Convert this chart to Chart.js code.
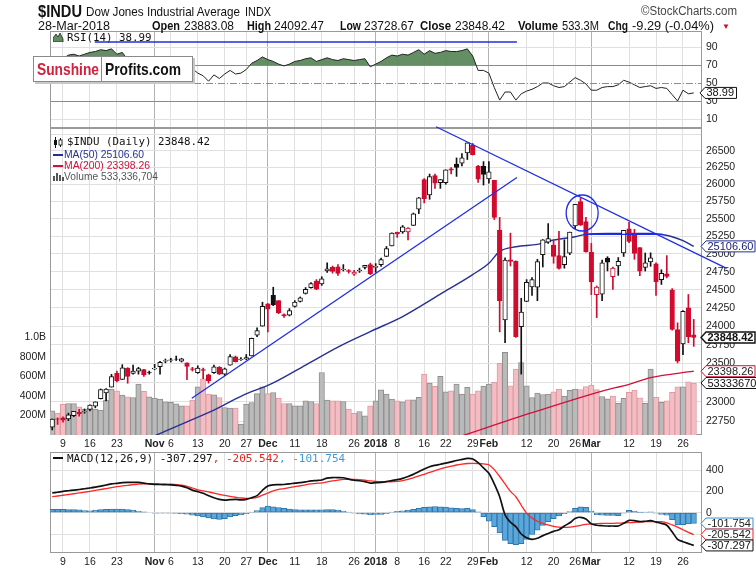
<!DOCTYPE html>
<html><head><meta charset="utf-8">
<script src="https://cdn.jsdelivr.net/npm/chart.js@4.4.1/dist/chart.umd.min.js"></script>
<style>
html,body{margin:0;padding:0;background:#fff;}
#wrap{position:relative;width:756px;height:572px;overflow:hidden;background:#fff;}
canvas{position:absolute;left:0;top:0;}
.t{position:absolute;white-space:nowrap;font-family:"Liberation Sans",Arial,sans-serif;color:#111;line-height:1;transform-origin:0 0;}
.s{position:absolute;white-space:nowrap;font-family:"Liberation Sans",Arial,sans-serif;font-size:10px;line-height:1;transform-origin:0 0;}
.m{position:absolute;white-space:nowrap;font-family:"DejaVu Sans Mono",monospace;font-size:10.8px;line-height:1;color:#111;}
.bd{font-weight:bold;}
#logo{position:absolute;left:33px;top:56px;width:158px;height:24px;background:#fff;border:1px solid #8a8a8a;box-shadow:2px 2px 0 #c8c8c8;}
#logo .t{font-size:17px;font-weight:bold;top:4px;}
#logo .d{position:absolute;left:67px;top:0;width:1px;height:24px;background:#8a8a8a;}
</style></head>
<body><div id="wrap">
<canvas id="cRsi" width="756" height="572"></canvas>
<canvas id="cMain" width="756" height="572"></canvas>
<canvas id="cMacd" width="756" height="572"></canvas>

<div class="t fit bd" data-w="44" style="left:38px;top:3px;font-size:17px;">$INDU</div>
<div class="t fit" data-w="154" style="left:86px;top:5px;font-size:13px;">Dow Jones Industrial Average</div>
<div class="t fit" data-w="26" style="left:245px;top:5px;font-size:13px;">INDX</div>
<div class="t fit" data-w="96" style="left:641px;top:5px;font-size:12.5px;color:#444;">©StockCharts.com</div>

<div class="t fit" data-w="72" style="left:38px;top:20px;font-size:12.5px;">28-Mar-2018</div>
<div class="t fit bd" data-w="28" style="left:152px;top:20px;font-size:12.5px;">Open</div>
<div class="t fit" data-w="50" style="left:184px;top:20px;font-size:12.5px;">23883.08</div>
<div class="t fit bd" data-w="24" style="left:247px;top:20px;font-size:12.5px;">High</div>
<div class="t fit" data-w="50" style="left:274px;top:20px;font-size:12.5px;">24092.47</div>
<div class="t fit bd" data-w="21" style="left:340px;top:20px;font-size:12.5px;">Low</div>
<div class="t fit" data-w="50" style="left:364px;top:20px;font-size:12.5px;">23728.67</div>
<div class="t fit bd" data-w="31" style="left:420px;top:20px;font-size:12.5px;">Close</div>
<div class="t fit" data-w="50" style="left:455px;top:20px;font-size:12.5px;">23848.42</div>
<div class="t fit bd" data-w="40" style="left:518px;top:20px;font-size:12.5px;">Volume</div>
<div class="t fit" data-w="37" style="left:562px;top:20px;font-size:12.5px;">533.3M</div>
<div class="t fit bd" data-w="20" style="left:608px;top:20px;font-size:12.5px;">Chg</div>
<div class="t fit" data-w="82" style="left:632px;top:20px;font-size:12.5px;">-9.29 (-0.04%)</div>
<div class="t" style="left:722px;top:23px;font-size:8px;color:#cc1122;">▼</div>

<svg style="position:absolute;left:53px;top:33px" width="11" height="9"><polygon points="0,9 0,5 3,1 5,4 7,0 10,6 10,9" fill="#5f8f5f" stroke="#222" stroke-width="0.8"/></svg>
<div class="m" style="left:67px;top:33px;">RSI(14) 38.99</div>

<div id="logo"><span class="t fit" data-w="62" style="left:3px;color:#d3203c;">Sunshine</span><span class="d"></span><span class="t fit" data-w="76" style="left:71px;color:#111;">Profits.com</span></div>

<svg style="position:absolute;left:53px;top:137px" width="11" height="11"><line x1="2.5" y1="0" x2="2.5" y2="11" stroke="#111"/><rect x="1" y="3" width="3" height="5" fill="#111"/><line x1="7.5" y1="1" x2="7.5" y2="10" stroke="#111"/><rect x="6" y="3" width="3" height="5" fill="#fff" stroke="#111" stroke-width="0.8"/></svg>
<div class="m" style="left:67px;top:137px;">$INDU (Daily) 23848.42</div>
<div style="position:absolute;left:53px;top:154px;width:10px;height:2px;background:#27308f;"></div>
<div class="s fit" data-w="80" style="left:64px;top:150px;color:#27308f;">MA(50) 25106.60</div>
<div style="position:absolute;left:53px;top:165px;width:10px;height:2px;background:#d0103a;"></div>
<div class="s fit" data-w="86" style="left:64px;top:161px;color:#d0103a;">MA(200) 23398.26</div>
<svg style="position:absolute;left:53px;top:172px" width="11" height="9"><rect x="0" y="4" width="2" height="5" fill="#555"/><rect x="3" y="1" width="2" height="8" fill="#555"/><rect x="6" y="3" width="2" height="6" fill="#555"/><rect x="9" y="5" width="2" height="4" fill="#555"/></svg>
<div class="s fit" data-w="94" style="left:64px;top:172px;color:#555;">Volume 533,336,704</div>

<div style="position:absolute;left:53px;top:457px;width:10px;height:2px;background:#111;"></div>
<div class="m" style="left:67px;top:453px;font-size:11px;">MACD(12,26,9) -307.297<span style="color:#ee2222">, -205.542</span><span style="color:#3b9be0">, -101.754</span></div>
</div>
<script>
// ---------------- DATA ----------------
const dates = ["Oct 5","Oct 6","Oct 9","Oct 10","Oct 11","Oct 12","Oct 13","Oct 16","Oct 17","Oct 18","Oct 19","Oct 20","Oct 23","Oct 24","Oct 25","Oct 26","Oct 27","Oct 30","Oct 31",
"Nov 1","Nov 2","Nov 3","Nov 6","Nov 7","Nov 8","Nov 9","Nov 10","Nov 13","Nov 14","Nov 15","Nov 16","Nov 17","Nov 20","Nov 21","Nov 22","Nov 24","Nov 27","Nov 28","Nov 29","Nov 30",
"Dec 1","Dec 4","Dec 5","Dec 6","Dec 7","Dec 8","Dec 11","Dec 12","Dec 13","Dec 14","Dec 15","Dec 18","Dec 19","Dec 20","Dec 21","Dec 22","Dec 26","Dec 27","Dec 28","Dec 29",
"Jan 2","Jan 3","Jan 4","Jan 5","Jan 8","Jan 9","Jan 10","Jan 11","Jan 12","Jan 16","Jan 17","Jan 18","Jan 19","Jan 22","Jan 23","Jan 24","Jan 25","Jan 26","Jan 29","Jan 30","Jan 31",
"Feb 1","Feb 2","Feb 5","Feb 6","Feb 7","Feb 8","Feb 9","Feb 12","Feb 13","Feb 14","Feb 15","Feb 16","Feb 20","Feb 21","Feb 22","Feb 23","Feb 26","Feb 27","Feb 28",
"Mar 1","Mar 2","Mar 5","Mar 6","Mar 7","Mar 8","Mar 9","Mar 12","Mar 13","Mar 14","Mar 15","Mar 16","Mar 19","Mar 20","Mar 21","Mar 22","Mar 23","Mar 26","Mar 27","Mar 28"];

const openP = [22670,22778,22790,22777,22820,22862,22866,22900,22940,23040,23115,23190,23370,23290,23440,23370,23400,23420,23380,23430,23460,23530,23540,23560,23530,23510,23430,23380,23420,23350,
23380,23450,23360,23480,23590,23550,23560,23600,23880,24000,24305,24424,24350,24160,24150,24270,24340,24450,24530,24620,24580,24760,24810,24820,24780,24765,24715,24760,24810,24850,
24810,24850,24964,25115,25308,25312,25311,25406,25638,26071,25847,26129,26025,26026,26232,26302,26313,26466,26583,26268,26268,26083,26061,25338,24085,24916,24894,23993,24338,24540,
24535,24990,25165,25124,24977,24850,25010,25400,25750,25460,25024,24432,24438,24940,24681,24830,25014,25357,25271,25090,24812,24888,24859,24641,24719,24496,23956,23762,24251,23883.08];
const highP = [22777,22790,22803,22852,22873,22900,22905,22960,22997,23165,23170,23358,23400,23485,23445,23480,23450,23425,23400,23490,23530,23560,23570,23600,23570,23510,23450,23470,23440,23360,
23480,23460,23440,23620,23600,23580,23620,23840,23980,24328,24310,24534,24350,24170,24240,24350,24400,24530,24600,24640,24680,24876,24830,24850,24850,24780,24770,24800,24840,24870,
24864,24941,25105,25299,25311,25404,25375,25584,25810,26086,26153,26153,26072,26215,26250,26392,26458,26617,26608,26281,26338,26338,26062,25520,24946,25295,24904,24382,24640,24668,
24924,25203,25432,25186,25320,25200,25310,25709,25800,25521,25149,24552,24912,24961,24815,24949,25336,25450,25350,25091,25013,25016,24874,24778,24976,24515,24046,24212,24434,24092.47];
const lowP = [22636,22706,22735,22754,22805,22812,22850,22880,22920,23035,23010,23190,23257,23290,23240,23360,23360,23330,23360,23420,23360,23510,23520,23540,23520,23286,23400,23370,23300,23242,
23370,23355,23340,23480,23520,23540,23550,23600,23860,24000,23922,24280,24170,24120,24140,24260,24330,24440,24520,24500,24560,24740,24730,24700,24760,24730,24700,24740,24790,24710,
24742,24825,24963,25112,25235,25292,25200,25405,25575,25730,25783,25942,25942,26003,26156,26118,26275,26368,26435,26028,25991,26020,25490,23924,23779,24830,23849,23360,24337,24420,
24349,24816,25149,24869,24785,24800,24990,25358,25405,25025,24432,24117,24348,24762,24505,24699,24964,25158,24924,24694,24760,24826,24422,24573,24664,23947,23509,23618,23777,23728.67];
const closeP = [22775,22774,22761,22831,22873,22841,22871,22957,22997,23158,23163,23329,23274,23442,23330,23401,23434,23349,23377,23436,23517,23539,23548,23557,23563,23462,23422,23440,23410,23272,
23458,23358,23430,23591,23526,23558,23580,23836,23940,24272,24231,24290,24180,24140,24212,24329,24387,24504,24585,24509,24652,24792,24754,24726,24782,24754,24746,24774,24838,24719,
24824,24922,25075,25295,25283,25386,25369,25574,25803,25792,26116,26017,26071,26214,26210,26252,26392,26617,26439,26076,26149,26186,25521,24346,24912,24893,23860,24191,24601,24640,
24893,25200,25219,24964,24798,24962,25310,25709,25410,25029,24608,24538,24874,24884,24801,24895,25336,25178,25007,24759,24873,24946,24610,24727,24683,23958,23533,24202,23857,23848.42];
const prevClose0 = 22661; // close before the first bar (Oct 4)
// volume, millions of shares
const volumeM = [248,225,315,323,323,290,266,276,265,255,358,470,454,409,392,385,522,447,392,378,368,340,334,320,300,300,358,495,576,420,
412,385,282,276,276,113,316,333,425,494,425,436,378,323,323,299,299,350,344,323,641,357,350,350,344,265,221,241,197,300,
351,464,420,369,351,341,362,362,386,625,532,498,601,443,454,522,420,488,420,454,502,522,539,734,847,504,675,744,504,384,
430,415,420,443,470,400,458,470,467,496,511,465,395,370,399,326,375,437,461,380,324,676,386,334,351,437,495,495,546,533.3];
const lastVolumeText = "533336704";

// moving averages (read as sparse points: day index, value)
const ma50Idx = [19,25,30,35,41,47,53,59,65,72,78,81,83,86,90,93,97,99,104,108,111,113,115,117,119];
const ma50Val = [22560,22740,22890,23070,23245,23480,23720,23928,24132,24440,24710,24868,25035,25102,25136,25197,25244,25278,25290,25292,25290,25275,25244,25187,25106.60];
const ma200Idx = [76,89,102,107,111,119];
const ma200Val = [22560,22857,23138,23226,23314,23398.26];

const rsi14 = [78,78,77,81,82,80,82,84,85,87,86,88,82,84,76,77,78,72,73,75,77,77,78,78,78,70,66,61,58,52,
59,55,60,64,60,61,65,72,75,79,76,74,71,69,71,74,75,77,78,74,76,78,76,75,77,76,75,76,77,68,
71,74,78,81,80,82,81,84,87,82,86,83,84,86,85,85,86,88,80,64,64,61,45,31,40,40,31,38,41,43,
46,50,50,47,45,46,51,56,53,49,42,42,45,46,46,48,53,51,48,45,46,47,44,45,44,37,30,42,38,38.99];

const macdLine = [185,192,200,206,212,218,225,232,240,250,260,270,276,282,285,285,284,278,270,266,265,263,261,257,250,235,212,198,182,160,
140,125,118,122,125,120,125,140,160,210,250,262,264,265,270,278,283,290,298,302,307,325,330,330,328,315,305,300,292,278,
282,285,292,302,310,322,340,360,385,410,432,445,455,465,477,490,500,510,505,470,420,370,270,150,-20,-90,-131,-200,-235,-250,
-240,-215,-195,-175,-160,-125,-95,-55,-43,-60,-105,-118,-122,-125,-125,-125,-100,-72,-75,-84,-80,-75,-88,-100,-118,-180,-250,-272,-290,-307.297];
const signalLine = [150,157,164,171,178,186,193,201,210,218,227,236,244,251,257,263,268,270,270,270,269,268,267,264,258,248,232,215,205,195,
184,172,162,153,145,138,134,136,145,165,185,205,218,226,235,245,253,262,270,276,280,290,298,305,312,313,312,310,305,298,
293,291,291,291,295,302,312,328,345,360,378,395,412,425,437,448,456,462,464,462,458,450,405,340,270,200,150,70,-6,-50,
-80,-100,-115,-128,-135,-137,-135,-128,-118,-110,-105,-102,-100,-100,-100,-98,-96,-94,-90,-87,-84,-84,-84,-84,-95,-115,-135,-160,-185,-205.542];
const histBars = [32,32,31,30,30,28,20,18,24,30,32,35,35,33,30,24,15,8,0,-3,-4,-5,-5,-7,-10,-14,-22,-30,-40,-50,
-58,-62,-55,-40,-28,-18,-10,5,20,48,62,56,48,40,34,30,28,28,28,26,26,30,30,25,16,5,-5,-12,-14,-18,
-16,-15,-8,5,14,18,25,32,42,50,55,58,55,52,45,40,38,40,30,8,-38,-80,-130,-190,-260,-290,-300,-290,-250,-205,
-165,-120,-85,-55,-30,-10,10,40,55,50,15,-18,-22,-25,-25,-27,-4,22,15,3,4,9,-4,-16,-23,-65,-115,-112,-105,-101.754];

// tick labels
const tickIdx  = [2,7,12,19,22,27,32,36,40,45,50,56,60,64,69,73,78,81,88,93,97,100,107,112,117];
const tickText = ["9","16","23","Nov","6","13","20","27","Dec","11","18","26","2018","8","16","22","29","Feb","12","20","26","Mar","12","19","26"];
const monthIdx = [19,40,60,81,100];
const priceTicks  = [22750,23000,23250,23500,23750,24000,24250,24500,24750,25000,25250,25500,25750,26000,26250,26500,26750];
const priceLabels = ["22750","23000","23250","23500","23750","24000","24250","24500","24750","25000","25250","25500","25750","26000","26250","26500",""];
const volTicks  = [200,400,600,800,1000];
const volLabels = ["200M","400M","600M","800M","1.0B"];
const rsiTicks  = [10,30,50,70,90];
const macdTicks  = [-200,0,200,400];
const macdLabels = ["","0","200","400"];

// drawn annotations (day index, value)
const supportLine = [[25.9,23044],[86.2,26102]];
const resistLine  = [[71.2,26861],[125.1,24798]];
const flatLine    = [[98.5,25276],[113.3,25276]];
const circleAt    = [98.3,25584];
const rsiMarkLine = [[7.9,95.6],[86.2,95.6]];

// ---------------- TEXT FITTING ----------------
document.querySelectorAll('.fit').forEach(el=>{
  const w = el.getBoundingClientRect().width, target = +el.dataset.w;
  if (w > 0) el.style.transform = 'scaleX(' + (target / w) + ')';
});

// ---------------- CHARTS ----------------
const FONT = "'Liberation Sans', Arial, sans-serif";
const X_MIN = -0.41, X_MAX = 120.53;
const RED = '#d10a2e', BLK = '#111111';
const pts = (arr) => arr.map((v,i)=>({x:i,y:v}));
const sparse = (ix, vals) => ix.map((k,i)=>({x:k,y:vals[i]}));

function xAxis(show){
  return {
    type:'linear', min:X_MIN, max:X_MAX, offset:false,
    afterBuildTicks:s=>{ s.ticks = tickIdx.map(v=>({value:v})); },
    afterFit:s=>{ s.height = show ? 14 : 0; },
    grid:{ drawTicks:false, offset:false, lineWidth:1,
      color:c=> (c.tick && monthIdx.includes(c.tick.value)) ? '#b2b2b2' : '#e0e0e0' },
    border:{display:false},
    ticks:{ display:show, padding:3, autoSkip:false, maxRotation:0, color:'#222',
      font:c=>({family:FONT,size:10.5,weight:(c.tick && monthIdx.includes(c.tick.value))?'bold':'normal'}),
      callback:v=>{ const i=tickIdx.indexOf(v); return i<0?'':tickText[i]; } }
  };
}
const frame = { id:'frame', beforeDatasetsDraw(chart){
  const a=chart.chartArea, c=chart.ctx; c.save(); c.strokeStyle='#9a9a9a'; c.lineWidth=1;
  c.strokeRect(Math.round(a.left)+0.5, Math.round(a.top)+0.5, Math.round(a.right-a.left)-1, Math.round(a.bottom-a.top)-1); c.restore(); } };

function tag(ctx, x0, yc, text, stroke, color, bold, right){
  ctx.save();
  ctx.font = (bold?'bold ':'') + '11px ' + FONT;
  const tw = ctx.measureText(text).width, h = 11, tip = 5;
  const r = right || (x0 + tip + tw + 4);
  ctx.beginPath();
  ctx.moveTo(x0, yc); ctx.lineTo(x0+tip, yc-h/2); ctx.lineTo(r, yc-h/2); ctx.lineTo(r, yc+h/2); ctx.lineTo(x0+tip, yc+h/2); ctx.closePath();
  ctx.fillStyle='#fff'; ctx.fill(); ctx.lineWidth = bold?1.4:1; ctx.strokeStyle=stroke; ctx.stroke();
  ctx.fillStyle=color; ctx.textBaseline='middle'; ctx.textAlign='left';
  ctx.fillText(text, x0+tip+1.5, yc+0.5);
  ctx.restore();
}
const common = { responsive:false, animation:false, events:[], plugins:{legend:{display:false},tooltip:{enabled:false}} };

// ---- RSI ----
const rsiPlug = { id:'rsiPlug',
  afterDatasetsDraw(chart){
    const {ctx, scales:{x,y}, chartArea:a} = chart;
    ctx.save(); ctx.strokeStyle='#8a8a8a'; ctx.lineWidth=1; ctx.setLineDash([7,2,1,2]);
    const y50 = Math.round(y.getPixelForValue(50))+0.5;
    ctx.beginPath(); ctx.moveTo(a.left,y50); ctx.lineTo(a.right,y50); ctx.stroke();
    ctx.setLineDash([]); ctx.strokeStyle='#1f2ee6'; ctx.lineWidth=1.3;
    ctx.beginPath(); ctx.moveTo(x.getPixelForValue(rsiMarkLine[0][0]), y.getPixelForValue(rsiMarkLine[0][1]));
    ctx.lineTo(x.getPixelForValue(rsiMarkLine[1][0]), y.getPixelForValue(rsiMarkLine[1][1])); ctx.stroke();
    ctx.restore();
  },
  afterDraw(chart){
    const y = chart.scales.y, last = rsi14[rsi14.length-1];
    tag(chart.ctx, 700, y.getPixelForValue(last), last.toFixed(2), '#111', '#111', false);
  } };
new Chart(document.getElementById('cRsi'), {
  type:'line',
  data:{ datasets:[{ data:pts(rsi14), borderColor:'#222', borderWidth:1, pointRadius:0, tension:0,
    fill:{target:{value:70}, above:'rgba(78,128,78,0.88)', below:'rgba(0,0,0,0)'} }] },
  options:{ ...common, layout:{padding:{top:31,bottom:444,left:50,right:0}},
    scales:{ x:xAxis(false),
      y:{ position:'right', min:0, max:107.8,
        afterBuildTicks:s=>{ s.ticks = rsiTicks.map(v=>({value:v})); },
        afterFit:s=>{ s.width=54; },
        grid:{ drawTicks:false, color:c=>{ const v=c.tick&&c.tick.value; return (v===70||v===30)?'#8a8a8a':(v===50?'rgba(0,0,0,0)':'#e0e0e0'); } },
        border:{display:false},
        ticks:{ padding:4, color:'#222', font:{family:FONT,size:10.5}, callback:v=>String(v) } } } },
  plugins:[frame, rsiPlug]
});

// ---- MAIN (price + volume) ----
const candleColor = closeP.map((c,i)=> c < (i?closeP[i-1]:prevClose0) ? RED : BLK);
const hollow = closeP.map((c,i)=> c > openP[i]);
const volUp = closeP.map((c,i)=> c >= (i?closeP[i-1]:prevClose0));
const mainPlug = { id:'mainPlug',
  afterDatasetsDraw(chart){
    const {ctx, scales:{x,y}} = chart;
    ctx.save(); ctx.strokeStyle='#1f2ee6'; ctx.lineWidth=1.3;
    for (const seg of [supportLine, resistLine, flatLine]){
      ctx.beginPath(); ctx.moveTo(x.getPixelForValue(seg[0][0]), y.getPixelForValue(seg[0][1]));
      ctx.lineTo(x.getPixelForValue(seg[1][0]), y.getPixelForValue(seg[1][1])); ctx.stroke();
    }
    ctx.beginPath(); ctx.ellipse(x.getPixelForValue(circleAt[0]), y.getPixelForValue(circleAt[1]), 16, 18, 0, 0, Math.PI*2); ctx.stroke();
    ctx.restore();
  },
  afterDraw(chart){
    const {ctx, scales:{y, vol}} = chart;
    tag(ctx, 701, y.getPixelForValue(ma50Val[ma50Val.length-1]), ma50Val[ma50Val.length-1].toFixed(2), '#27308f', '#1b2277', false, 755);
    tag(ctx, 701, y.getPixelForValue(closeP[closeP.length-1]), closeP[closeP.length-1].toFixed(2), '#111', '#111', true, 755);
    tag(ctx, 701, y.getPixelForValue(ma200Val[ma200Val.length-1]), ma200Val[ma200Val.length-1].toFixed(2), '#d0103a', '#222', false, 755);
    tag(ctx, 701, vol.getPixelForValue(volumeM[volumeM.length-1]), lastVolumeText, '#111', '#111', false, 760);
  } };
new Chart(document.getElementById('cMain'), {
  type:'line',
  data:{ datasets:[
    { type:'bar', yAxisID:'vol', order:6, grouped:false, barThickness:5.4, borderWidth:1, borderSkipped:'start',
      data:volumeM.map((v,i)=>({x:i,y:v})),
      backgroundColor:volUp.map(u=>u?'#bababa':'#f3bec3'), borderColor:volUp.map(u=>u?'#8e8e8e':'#df9aa2') },
    { type:'line', yAxisID:'y', order:5, data:sparse(ma200Idx,ma200Val), borderColor:'#d0103a', borderWidth:1.3, pointRadius:0, cubicInterpolationMode:'monotone' },
    { type:'line', yAxisID:'y', order:4, data:sparse(ma50Idx,ma50Val), borderColor:'#27308f', borderWidth:1.4, pointRadius:0, cubicInterpolationMode:'monotone' },
    { type:'bar', yAxisID:'y', order:2, grouped:false, barThickness:1, borderWidth:0,
      data:lowP.map((l,i)=>({x:i,y:[l,highP[i]]})), backgroundColor:candleColor },
    { type:'bar', yAxisID:'y', order:1, grouped:false, barThickness:4.6, borderWidth:1, borderSkipped:false,
      data:openP.map((o,i)=>({x:i,y:[o,closeP[i]]})),
      backgroundColor:candleColor.map((c,i)=>hollow[i]?'#ffffff':c), borderColor:candleColor }
  ]},
  options:{ ...common, layout:{padding:{top:128,bottom:123,left:0,right:0}},
    scales:{ x:xAxis(true),
      y:{ type:'logarithmic', position:'right', min:22571, max:26841.7,
        afterBuildTicks:s=>{ s.ticks = priceTicks.map(v=>({value:v})); },
        afterFit:s=>{ s.width=54; },
        grid:{ drawTicks:false, color:'#e0e0e0' }, border:{display:false},
        ticks:{ padding:4, color:'#222', font:{family:FONT,size:10.5}, callback:v=>{ const i=priceTicks.indexOf(v); return i<0?'':priceLabels[i]; } } },
      vol:{ type:'linear', position:'left', min:0, max:3149,
        afterBuildTicks:s=>{ s.ticks = volTicks.map(v=>({value:v})); },
        afterFit:s=>{ s.width=50; },
        grid:{ display:false, drawTicks:false }, border:{display:false},
        ticks:{ padding:4, color:'#222', font:{family:FONT,size:10.5}, callback:v=>{ const i=volTicks.indexOf(v); return i<0?'':volLabels[i]; } } } } },
  plugins:[frame, mainPlug]
});

// ---- MACD ----
const macdPlug = { id:'macdPlug', afterDraw(chart){
  const {ctx, scales:{y}} = chart;
  const h = histBars[histBars.length-1], s = signalLine[signalLine.length-1], m = macdLine[macdLine.length-1];
  tag(ctx, 701, y.getPixelForValue(h), h.toFixed(3), '#3b8fd0', '#222', false, 753);
  tag(ctx, 701, y.getPixelForValue(s), s.toFixed(3), '#ee2222', '#222', false, 753);
  tag(ctx, 701, y.getPixelForValue(m), m.toFixed(3), '#111', '#111', false, 753);
} };
new Chart(document.getElementById('cMacd'), {
  type:'line',
  data:{ datasets:[
    { type:'bar', order:3, grouped:false, barThickness:5.4, borderWidth:1, borderSkipped:false,
      data:pts(histBars), backgroundColor:'#5ba6da', borderColor:'#2f78ad' },
    { type:'line', order:2, data:pts(signalLine), borderColor:'#ff2626', borderWidth:1.3, pointRadius:0, tension:0.3 },
    { type:'line', order:1, data:pts(macdLine), borderColor:'#111', borderWidth:1.7, pointRadius:0, tension:0.3 }
  ]},
  options:{ ...common, layout:{padding:{top:452,bottom:5,left:50,right:0}},
    scales:{ x:xAxis(true),
      y:{ position:'right', min:-378.4, max:570,
        afterBuildTicks:s=>{ s.ticks = macdTicks.map(v=>({value:v})); },
        afterFit:s=>{ s.width=54; },
        grid:{ drawTicks:false, color:'#e0e0e0' }, border:{display:false},
        ticks:{ padding:4, color:'#222', font:{family:FONT,size:10.5}, callback:v=>{ const i=macdTicks.indexOf(v); return i<0?'':macdLabels[i]; } } } } },
  plugins:[frame, macdPlug]
});
</script>
</body></html>
